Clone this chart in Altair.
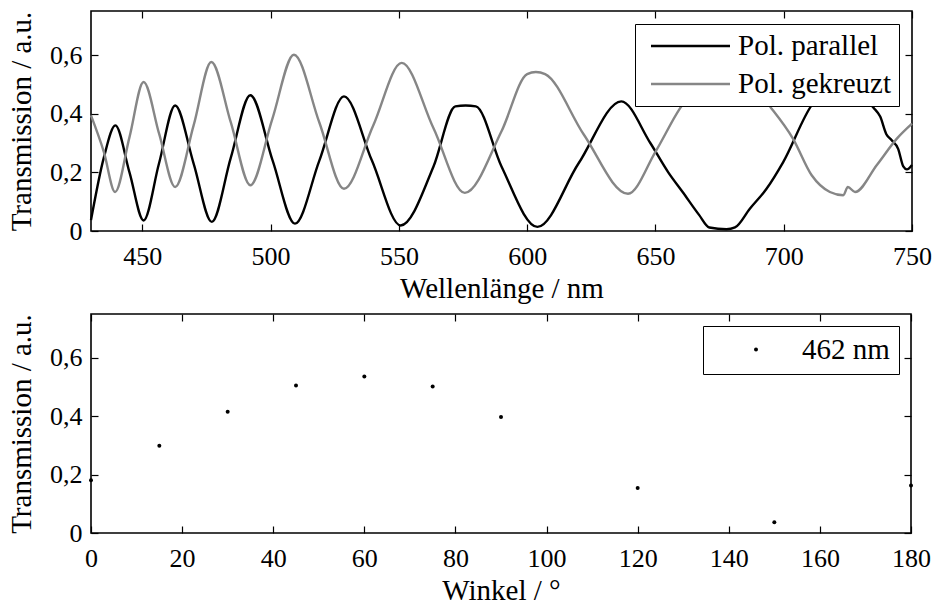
import altair as alt
import pandas as pd

# ---- top panel: transmission spectra ----
par_wl = [430, 435, 439.5, 445, 450.5, 456.5, 462.8, 470, 477.1, 484.5, 492.1, 500.8, 509.5,
          519, 528.6, 539.5, 550.7, 563.5, 572, 576, 580, 590, 604, 620, 636.7, 648, 655,
          660.6, 667, 671, 677.7, 681, 686.8, 693.3, 699.8, 711, 722, 733, 735, 737.6, 740, 742,
          744.6, 746.6, 748, 750]
par_T = [0.037, 0.25, 0.36, 0.20, 0.036, 0.23, 0.428, 0.23, 0.031, 0.25, 0.463, 0.24, 0.025,
         0.24, 0.459, 0.24, 0.019, 0.22, 0.425, 0.428, 0.425, 0.22, 0.014, 0.23, 0.442, 0.30, 0.20,
         0.133, 0.055, 0.012, 0.006, 0.012, 0.076, 0.144, 0.235, 0.43, 0.50, 0.44, 0.42, 0.39, 0.33,
         0.31, 0.28, 0.22, 0.21, 0.225]

cross_wl = [430, 435, 439.4, 445, 450.5, 456.6, 462.8, 470, 476.9, 484.5, 492.1, 500.6, 509.1,
            519, 528.6, 540, 551.1, 563.5, 575.7, 590, 600, 603.4, 607, 622, 639.3, 650, 659.5,
            677, 695.3, 703.6, 710.9, 718, 723.2, 725, 727.8, 736.3, 744.1, 750]
cross_T = [0.394, 0.27, 0.133, 0.32, 0.508, 0.33, 0.150, 0.36, 0.576, 0.37, 0.156, 0.38, 0.601,
           0.37, 0.144, 0.36, 0.573, 0.35, 0.130, 0.34, 0.535, 0.542, 0.535, 0.33, 0.127, 0.27, 0.417,
           0.575, 0.417, 0.315, 0.19, 0.133, 0.122, 0.15, 0.133, 0.225, 0.315, 0.366]

series_names = ["Pol. parallel", "Pol. gekreuzt"]
series_colors = ["#000000", "#868686"]

wl_ticks = [450, 500, 550, 600, 650, 700, 750]
T_ticks = [0, 0.2, 0.4, 0.6]

# ---- bottom panel: angle dependence ----
angles = [0, 15, 30, 45, 60, 75, 90, 120, 150, 180]
angle_T = [0.181, 0.299, 0.415, 0.505, 0.536, 0.502, 0.397, 0.154, 0.037, 0.163]
point_label = "462 nm"
angle_ticks = [0, 20, 40, 60, 80, 100, 120, 140, 160, 180]

FONT = "Liberation Serif, DejaVu Serif, serif"
FS = 26      # tick labels
FT = 29      # titles and legend
TICK = 7

spec_df = pd.DataFrame(
    {"wl": par_wl + cross_wl,
     "T": par_T + cross_T,
     "series": [series_names[0]] * len(par_wl) + [series_names[1]] * len(cross_wl)}
)
ang_df = pd.DataFrame({"angle": angles, "T": angle_T, "label": [point_label] * len(angles)})

ylab = "datum.value == 0 ? '0' : replace(format(datum.value, '.1f'), '.', ',')"


def main_x(vals, title):
    return alt.Axis(values=vals, title=title, orient="bottom", offset=-TICK, tickSize=TICK,
                    labelPadding=12, titlePadding=5, domain=False, labelFlush=False)


def main_y():
    return alt.Axis(values=T_ticks, title="Transmission / a.u.", orient="left", offset=-TICK,
                    tickSize=TICK, labelPadding=9, labelExpr=ylab, titlePadding=13, domain=False,
                    labelFlush=False)


def mirror_x(vals):
    return alt.Axis(values=vals, title=None, orient="top", offset=-TICK, tickSize=TICK,
                    labels=False, domain=False)


def mirror_y():
    return alt.Axis(values=T_ticks, title=None, orient="right", offset=-TICK, tickSize=TICK,
                    labels=False, domain=False)


xs_top = alt.Scale(domain=[430, 750], nice=False, zero=False)
ys = alt.Scale(domain=[0, 0.75], nice=False)

lines = alt.Chart(spec_df).mark_line(strokeWidth=2.4, interpolate="monotone").encode(
    x=alt.X("wl:Q", scale=xs_top, axis=main_x(wl_ticks, "Wellenlänge / nm")),
    y=alt.Y("T:Q", scale=ys, axis=main_y()),
    color=alt.Color("series:N", scale=alt.Scale(domain=series_names, range=series_colors),
                    legend=alt.Legend(title=None, orient="top-right", offset=13,
                                      symbolType="stroke", symbolSize=6241, symbolStrokeWidth=2.4,
                                      symbolOffset=7.5, labelOffset=6.5, padding=7,
                                      clipHeight=30, rowPadding=8,
                                      strokeColor="black", fillColor="white",
                                      labelFont=FONT, labelFontSize=FT, labelColor="black")),
    order=alt.Order("wl:Q"),
)
lines_mirror = alt.Chart(spec_df).mark_line(strokeOpacity=0).encode(
    x=alt.X("wl:Q", scale=xs_top, axis=mirror_x(wl_ticks)),
    y=alt.Y("T:Q", scale=ys, axis=mirror_y()),
    detail="series:N",
)
top = alt.layer(lines, lines_mirror).resolve_axis(x="independent", y="independent").properties(
    width=821, height=220)

xs_bot = alt.Scale(domain=[0, 180], nice=False)
pts = alt.Chart(ang_df).mark_circle(size=16, opacity=1).encode(
    x=alt.X("angle:Q", scale=xs_bot, axis=main_x(angle_ticks, "Winkel / °")),
    y=alt.Y("T:Q", scale=ys, axis=main_y()),
    color=alt.Color("label:N", scale=alt.Scale(domain=[point_label], range=["#000000"]),
                    legend=alt.Legend(title=None, orient="top-right", offset=12,
                                      symbolType="circle", symbolSize=16, symbolOffset=29.5,
                                      labelOffset=31.5, padding=9,
                                      strokeColor="black", fillColor="white",
                                      labelFont=FONT, labelFontSize=FT, labelColor="black")),
)
pts_mirror = alt.Chart(ang_df).mark_circle(opacity=0).encode(
    x=alt.X("angle:Q", scale=xs_bot, axis=mirror_x(angle_ticks)),
    y=alt.Y("T:Q", scale=ys, axis=mirror_y()),
)
bottom = alt.layer(pts, pts_mirror).resolve_axis(x="independent", y="independent").properties(
    width=820, height=219)

chart = alt.vconcat(top, bottom, spacing=8).resolve_scale(
    color="independent", x="independent", y="independent"
).resolve_legend(color="independent").properties(
    padding={"left": 6, "top": 9, "right": 0, "bottom": 0},
    background="white",
).configure_view(stroke="black", strokeWidth=1.6).configure_axis(
    labelFont=FONT, titleFont=FONT, labelFontSize=FS, titleFontSize=FT,
    labelColor="black", titleColor="black", titleFontWeight="normal",
    tickColor="black", tickWidth=1.2, grid=False,
).configure_legend(labelFont=FONT)

chart.save("out.html", embed_options={"renderer": "svg", "actions": False})
